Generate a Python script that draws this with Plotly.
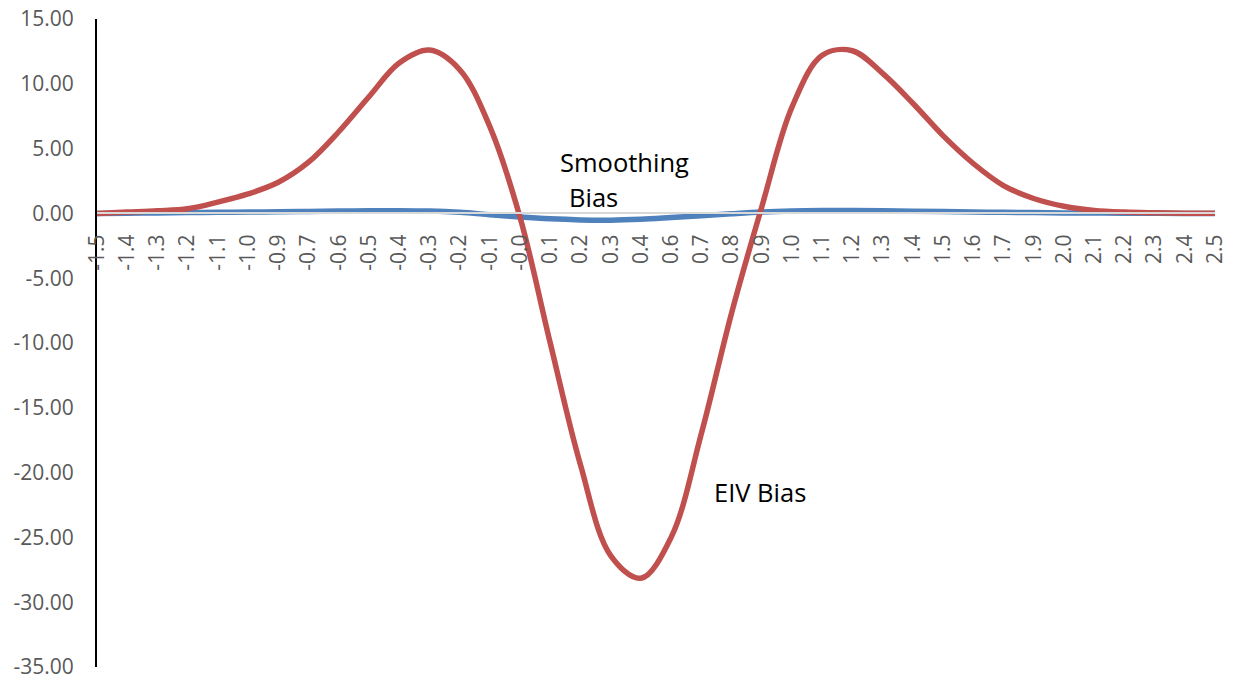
import plotly.graph_objects as go

# Category labels (as shown on the horizontal axis)
x_labels = ["-1.5", "-1.4", "-1.3", "-1.2", "-1.1", "-1.0", "-0.9", "-0.7", "-0.6", "-0.5",
            "-0.4", "-0.3", "-0.2", "-0.1", "-0.0", "0.1", "0.2", "0.3", "0.4", "0.6",
            "0.7", "0.8", "0.9", "1.0", "1.1", "1.2", "1.3", "1.4", "1.5", "1.6",
            "1.7", "1.9", "2.0", "2.1", "2.2", "2.3", "2.4", "2.5"]

smoothing_bias = [0.0, 0.02, 0.04, 0.06, 0.08, 0.10, 0.12, 0.15, 0.18, 0.20,
                  0.21, 0.18, 0.08, -0.10, -0.28, -0.42, -0.50, -0.52, -0.45, -0.32,
                  -0.18, -0.03, 0.10, 0.18, 0.22, 0.22, 0.20, 0.17, 0.14, 0.11,
                  0.08, 0.06, 0.04, 0.03, 0.02, 0.01, 0.0, 0.0]

eiv_bias = [0.0, 0.1, 0.2, 0.36, 0.87, 1.5, 2.4, 3.95, 6.3, 9.0,
            11.6, 12.6, 11.1, 6.7, -0.3, -10.0, -19.4, -26.4, -28.15, -25.0,
            -17.0, -7.7, 0.5, 8.2, 12.2, 12.55, 10.8, 8.5, 6.0, 3.85,
            2.15, 1.15, 0.55, 0.23, 0.1, 0.05, 0.02, 0.01]

y_ticks = [15, 10, 5, 0, -5, -10, -15, -20, -25, -30, -35]
y_ticktext = [f"{v:.2f}" for v in y_ticks]

x_idx = list(range(len(x_labels)))

fig = go.Figure()
fig.add_trace(go.Scatter(x=x_idx, y=smoothing_bias, mode="lines",
                         line=dict(color="#4F81BD", width=5.5, shape="spline", smoothing=1.0),
                         name="Smoothing Bias", showlegend=False))
fig.add_trace(go.Scatter(x=x_idx, y=eiv_bias, mode="lines",
                         line=dict(color="#C0504D", width=5.5, shape="spline", smoothing=1.0),
                         name="EIV Bias", showlegend=False))

tick_font = dict(family="Open Sans, Liberation Sans, sans-serif", size=21, color="#595959")
ann_font = dict(family="Open Sans, Liberation Sans, sans-serif", size=25.5, color="#000000")

fig.update_layout(
    width=1233, height=681,
    margin=dict(l=97, r=18, t=19, b=14, autoexpand=False),
    paper_bgcolor="white", plot_bgcolor="white",
    xaxis=dict(range=[0, len(x_labels) - 1], tickvals=x_idx, ticktext=x_labels,
               tickangle=-90, tickfont=tick_font, showgrid=False, zeroline=False,
               showline=True, linecolor="#D9D9D9", linewidth=1.5, automargin=False,
               anchor="free", position=35 / 50, ticks="", ticklabelstandoff=12,
               ticklabeloverflow="allow"),
    yaxis=dict(range=[-35, 15], tickvals=y_ticks, ticktext=y_ticktext,
               tickfont=tick_font, showgrid=False, zeroline=False, automargin=False,
               showline=True, linecolor="black", linewidth=2, ticks="",
               ticklabelstandoff=17, ticklabeloverflow="allow"),
    annotations=[
        dict(x=15.3, y=4.0, xref="x", yref="y", text="Smoothing", showarrow=False,
             xanchor="left", yanchor="middle", font=ann_font, borderpad=0),
        dict(x=15.6, y=1.3, xref="x", yref="y", text="Bias", showarrow=False,
             xanchor="left", yanchor="middle", font=ann_font, borderpad=0),
        dict(x=20.4, y=-21.5, xref="x", yref="y", text="EIV Bias", showarrow=False,
             xanchor="left", yanchor="middle", font=ann_font, borderpad=0),
    ],
)

# Remove the default 8px page margin so the figure fills the 1233x681 window exactly.
fig.write_html("out.html", config={"displayModeBar": False},
               post_script="document.body.style.margin='0';document.body.style.overflow='hidden';")
